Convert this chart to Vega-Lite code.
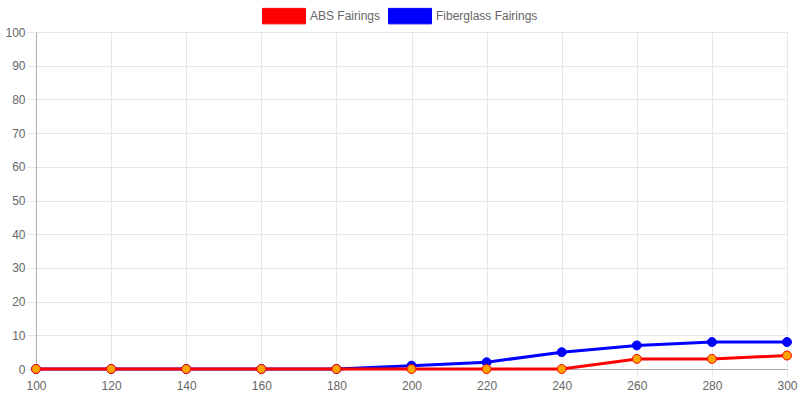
{
  "$schema": "https://vega.github.io/schema/vega-lite/v6.json",
  "autosize": {"type": "none"},
  "width": 751,
  "height": 337,
  "padding": {"left": 36, "top": 32, "right": 13, "bottom": 31},
  "background": "white",
  "config": {
    "view": {"stroke": null},
    "font": "Liberation Sans",
    "axis": {
      "labelColor": "#666666",
      "labelFontSize": 12,
      "labelFont": "Liberation Sans",
      "gridColor": "#e6e6e6",
      "tickColor": "#e6e6e6",
      "domainColor": "#b0b0b0",
      "labelOverlap": false,
      "labelFlush": false,
      "title": null
    },
    "legend": {
      "labelColor": "#666666",
      "labelFontSize": 12,
      "labelFont": "Liberation Sans"
    }
  },
  "data": {
    "values": [
      {"x": 100, "series": "ABS Fairings", "value": 0},
      {"x": 120, "series": "ABS Fairings", "value": 0},
      {"x": 140, "series": "ABS Fairings", "value": 0},
      {"x": 160, "series": "ABS Fairings", "value": 0},
      {"x": 180, "series": "ABS Fairings", "value": 0},
      {"x": 200, "series": "ABS Fairings", "value": 0},
      {"x": 220, "series": "ABS Fairings", "value": 0},
      {"x": 240, "series": "ABS Fairings", "value": 0},
      {"x": 260, "series": "ABS Fairings", "value": 3},
      {"x": 280, "series": "ABS Fairings", "value": 3},
      {"x": 300, "series": "ABS Fairings", "value": 4},
      {"x": 100, "series": "Fiberglass Fairings", "value": 0},
      {"x": 120, "series": "Fiberglass Fairings", "value": 0},
      {"x": 140, "series": "Fiberglass Fairings", "value": 0},
      {"x": 160, "series": "Fiberglass Fairings", "value": 0},
      {"x": 180, "series": "Fiberglass Fairings", "value": 0},
      {"x": 200, "series": "Fiberglass Fairings", "value": 1},
      {"x": 220, "series": "Fiberglass Fairings", "value": 2},
      {"x": 240, "series": "Fiberglass Fairings", "value": 5},
      {"x": 260, "series": "Fiberglass Fairings", "value": 7},
      {"x": 280, "series": "Fiberglass Fairings", "value": 8},
      {"x": 300, "series": "Fiberglass Fairings", "value": 8}
    ]
  },
  "encoding": {
    "x": {
      "field": "x",
      "type": "quantitative",
      "scale": {"domain": [100, 300], "nice": false},
      "axis": {
        "values": [100, 120, 140, 160, 180, 200, 220, 240, 260, 280, 300],
        "tickSize": 8,
        "labelPadding": 3
      }
    },
    "y": {
      "field": "value",
      "type": "quantitative",
      "scale": {"domain": [0, 100], "nice": false},
      "axis": {
        "values": [0, 10, 20, 30, 40, 50, 60, 70, 80, 90, 100],
        "tickSize": 9,
        "labelPadding": 2
      }
    }
  },
  "layer": [
    {
      "transform": [{"filter": "datum.series === 'Fiberglass Fairings'"}],
      "mark": {"type": "line", "strokeWidth": 3},
      "encoding": {
        "color": {
          "field": "series",
          "type": "nominal",
          "scale": {
            "domain": ["ABS Fairings", "Fiberglass Fairings"],
            "range": ["#ff0000", "#0000ff"]
          },
          "legend": {
            "title": null,
            "orient": "none",
            "direction": "horizontal",
            "legendX": 226,
            "legendY": -38,
            "symbolType": "M-1,-0.36L1,-0.36L1,0.36L-1,0.36Z",
            "symbolSize": 1849,
            "symbolStrokeWidth": 1,
            "labelOffset": 4,
            "columnPadding": 5,
            "encode": {
              "symbols": {
                "update": {
                  "fill": {"scale": "color", "field": "value"},
                  "stroke": {"scale": "color", "field": "value"},
                  "opacity": {"value": 1}
                }
              }
            }
          }
        }
      }
    },
    {
      "transform": [{"filter": "datum.series === 'Fiberglass Fairings'"}],
      "mark": {
        "type": "point",
        "shape": "circle",
        "size": 80,
        "fill": "#0000ff",
        "stroke": "#0000ff",
        "strokeWidth": 1,
        "opacity": 1,
        "filled": true
      }
    },
    {
      "transform": [{"filter": "datum.series === 'ABS Fairings'"}],
      "mark": {"type": "line", "strokeWidth": 3},
      "encoding": {
        "color": {"field": "series", "type": "nominal"}
      }
    },
    {
      "transform": [{"filter": "datum.series === 'ABS Fairings'"}],
      "mark": {
        "type": "point",
        "shape": "circle",
        "size": 80,
        "fill": "#ffa500",
        "stroke": "#ff0000",
        "strokeWidth": 1,
        "opacity": 1,
        "filled": true
      }
    }
  ]
}
